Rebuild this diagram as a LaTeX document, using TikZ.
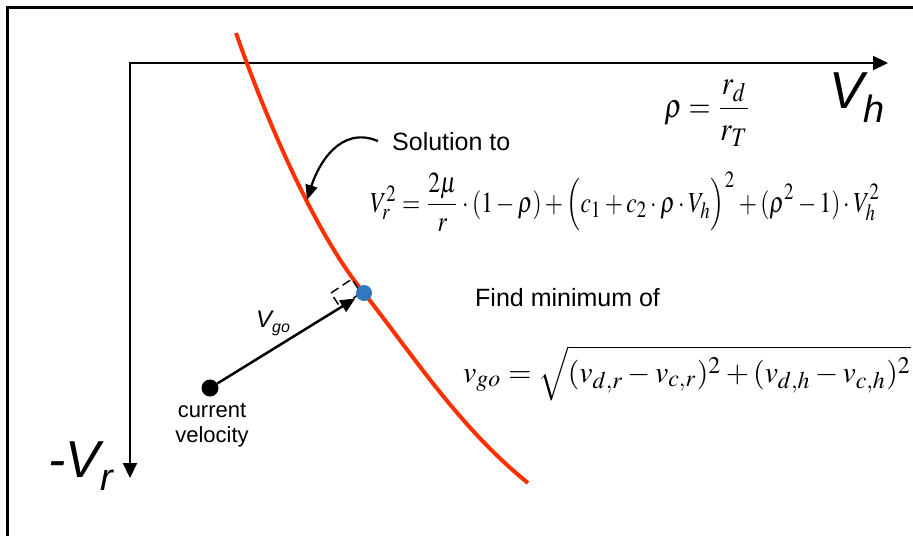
\documentclass[tikz,border=0pt]{standalone}
\usepackage{mathptmx}
\usepackage[no-math]{fontspec}
\setsansfont{Liberation Sans}
\usetikzlibrary{arrows.meta}
\DeclareMathSizes{10}{10}{8}{6.5}
\definecolor{curvered}{RGB}{255,48,0}
\definecolor{dotblue}{RGB}{50,120,190}
\begin{document}
\begin{tikzpicture}[x=1pt,y=-1pt,
  frame/.style={line width=3.6pt, line join=miter},
  axis/.style={line width=2.2pt, {Triangle[length=15pt,width=14pt]}-{Triangle[length=15pt,width=14pt]}},
  solcurve/.style={curvered, line width=4pt},
  rightmark/.style={line width=1.5pt, dash pattern=on 9pt off 5pt},
  vec/.style={line width=2.5pt, -{Triangle[length=15pt,width=13pt]}, shorten >=2pt},
  ptr/.style={line width=2.2pt, -{Triangle[length=15pt,width=12pt]}},
  dotnode/.style={circle, inner sep=0pt, minimum size=#1},
  lbl/.style={inner sep=0pt, font=\sffamily\fontsize{25}{28}\selectfont},
  small/.style={inner sep=0pt, font=\sffamily\fontsize{22}{25}\selectfont, align=center},
  axlbl/.style={inner sep=0pt, font=\sffamily\itshape\fontsize{52}{52}\selectfont},
  eqn/.style={inner sep=0pt}]
\useasboundingbox (0,0) rectangle (913,536);
% frame
\draw[frame] (7.3,536) -- (7.3,7.3) -- (913,7.3);
% axes
\coordinate (O) at (130,63);
\coordinate (Hend) at (888,63);
\coordinate (Rend) at (130,478);
\draw[axis] (Rend) -- (O) -- (Hend);
% solution curve
\coordinate (cTop) at (236,33);
\coordinate (cMid) at (364,293);
\coordinate (cEnd) at (528,483);
\draw[solcurve] (cTop) .. controls (270,130) and (318,237) .. (cMid)
                       .. controls (415,358) and (460,428) .. (cEnd);
% right-angle marker
\draw[rightmark] (331,293) -- (352,279) -- (361,293) -- (340,307) -- cycle;
% dots
\node[dotnode=17pt, fill=black] (cur) at (210,388) {};
\node[dotnode=16pt, fill=dotblue] (goal) at (cMid) {};
\draw[vec] (cur) -- (goal);
% labels
\node[anchor=base west, inner sep=0pt, font=\sffamily\itshape\fontsize{24}{24}\selectfont] (vgo) at (256,327) {V\raisebox{-5pt}{\fontsize{16}{16}\selectfont go}};
\node[small, anchor=north] (curlbl) at (212,403) {current\\velocity};
\node[lbl, anchor=base west] (sol) at (392,150) {Solution to};
\coordinate (onCurve) at (307,200);
\draw[ptr] ([xshift=-14pt]sol.west) .. controls (340,125) and (318,165) .. (onCurve);
\node[lbl, anchor=base west] (find) at (475,306) {Find minimum of};
\node[axlbl, anchor=base west] (vh) at (829,108) {V\raisebox{-14pt}{\fontsize{38}{38}\selectfont h}};
\node[axlbl, anchor=base west] (vr) at (48,477) {-V\raisebox{-13pt}{\fontsize{38}{38}\selectfont r}};
% equations
\node[eqn] (eqrho) at (708,113) {\resizebox*{87pt}{66pt}{$\displaystyle\rho=\frac{r_d}{r_T}$}};
\node[eqn, anchor=base west] (eqV) at (370,212) {\resizebox*{510pt}{60pt}{$V_r^2=\displaystyle\frac{2\mu}{r}\cdot(1-\rho)+\Bigl(c_1+c_2\cdot\rho\cdot V_h\Bigr)^2+(\rho^2-1)\cdot V_h^2$}};
\node[eqn, anchor=base west] (eqgo) at (463,382) {\resizebox{448pt}{!}{$v_{go}=\sqrt{(v_{d,r}-v_{c,r})^2+(v_{d,h}-v_{c,h})^2}$}};
\end{tikzpicture}
\end{document}
